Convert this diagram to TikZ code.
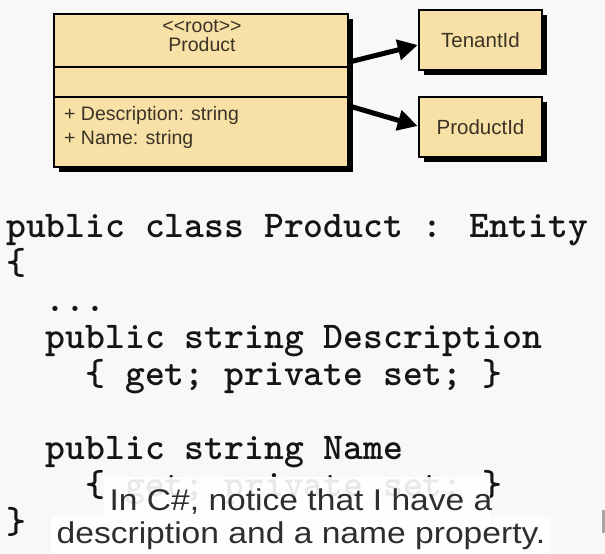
\documentclass[tikz,border=0pt]{standalone}
\usepackage{fontspec}
\usetikzlibrary{arrows.meta,shadows}
\newfontfamily\umlfont{Liberation Sans}
\newfontfamily\capfont[FakeStretch=1.12]{Liberation Sans}
\definecolor{bg}{HTML}{F8F8F8}
\definecolor{boxfill}{HTML}{F8E1A6}
\definecolor{umltext}{HTML}{3A3326}
\definecolor{codeink}{HTML}{151515}
\definecolor{capink}{HTML}{2E2E2E}
\begin{document}
\begin{tikzpicture}[x=1pt,y=-1pt,
  umlbox/.style={draw=black, line width=2.5pt, fill=boxfill, inner sep=0pt,
    drop shadow={shadow xshift=5pt,shadow yshift=-5pt,opacity=1,fill=black}},
  umllabel/.style={text=umltext, font=\umlfont\fontsize{19.5}{22}\selectfont, inner sep=0pt},
  codeline/.style={anchor=base west, inner sep=0pt, text=codeink,
    font=\ttfamily\bfseries\fontsize{37.8}{40}\selectfont},
  capline/.style={anchor=base, inner sep=0pt, text=capink,
    font=\capfont\fontsize{30}{33}\selectfont},
  capbg/.style={fill=white, opacity=0.9},
  assoc/.style={line width=5pt, -{Triangle[length=20pt,width=20pt]}}
]
\fill[bg] (0,0) rectangle (605,554);
\useasboundingbox (0,0) rectangle (605,554);

% UML class with its compartments
\node[umlbox, minimum width=294pt, minimum height=153pt] (prod) at (201,90.5) {};
\draw[line width=2.5pt] (54,67) -- (348,67);
\draw[line width=2.5pt] (54,97) -- (348,97);
\node[umllabel] (stereo) at (202,26) {<<root>>};
\node[umllabel] (pname) at (202,45) {Product};
\node[umllabel, anchor=west] (attr1) at (64,115) {+ Description: string};
\node[umllabel, anchor=west] (attr2) at (64,139) {+ Name: string};

% value objects
\node[umlbox, umllabel, font=\umlfont\fontsize{20.5}{23}\selectfont, minimum width=123pt, minimum height=60pt] (ten) at (480.5,40) {TenantId};
\node[umlbox, umllabel, font=\umlfont\fontsize{20.5}{23}\selectfont, minimum width=123pt, minimum height=60pt] (pid) at (480.5,127) {ProductId};

\draw[assoc] ([yshift=28.5pt]prod.east) -- ([yshift=-5pt]ten.west);
\draw[assoc] ([yshift=-15.5pt]prod.east) -- ([yshift=1pt]pid.west);

% C# listing, one column = 19.85pt
\node[codeline] (c1) at (6,237) {public class Product : Entity};
\node[codeline] (c2) at (6,274) {\{};
\node[codeline] (c3) at (45.7,311) {...};
\node[codeline] (c4) at (45.7,348) {public string Description};
\node[codeline] (c5) at (85.4,385) {\{ get; private set; \}};
\node[codeline] (c7) at (45.7,459) {public string Name};
\node[codeline] (c8) at (85.4,496) {\{ get; private set; \}};
\node[codeline] (c9) at (6,533) {\}};

% subtitle
\fill[capbg] (104,477) rectangle (490,517);
\fill[capbg] (51,517) rectangle (550,554);
\node[capline] (cap1) at (301,510) {In C\#, notice that I have a};
\node[capline] (cap2) at (301,543) {description and a name property.};
\fill[gray!70] (602,510) rectangle (605,533);
\end{tikzpicture}
\end{document}
